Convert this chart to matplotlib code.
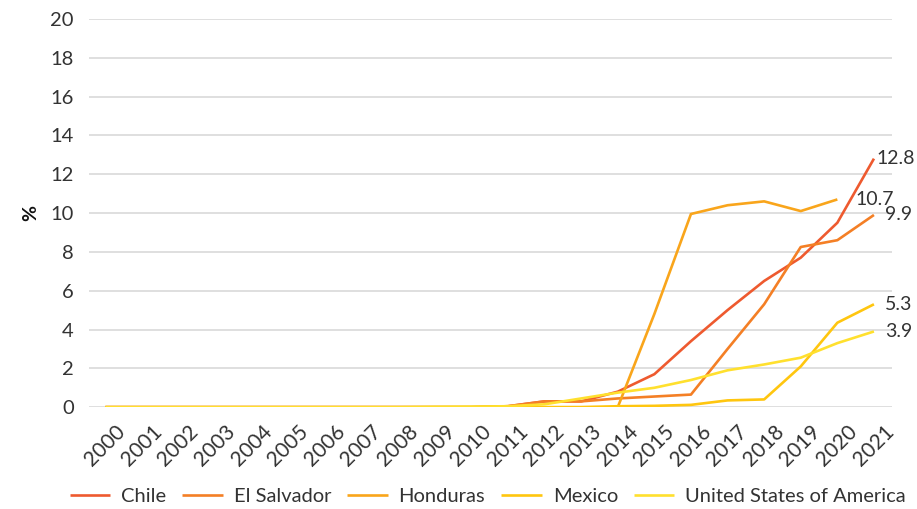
import numpy as np
import matplotlib
matplotlib.use("Agg")
import matplotlib.pyplot as plt
import matplotlib.transforms as mtransforms

years = list(range(2000, 2022))

chile = [0, 0, 0, 0, 0, 0, 0, 0, 0, 0, 0, 0.05, 0.3, 0.3, 0.8, 1.7, 3.4, 5.0, 6.5, 7.7, 9.5, 12.8]
el_salvador = [0, 0, 0, 0, 0, 0, 0, 0, 0, 0, 0, 0.05, 0.3, 0.3, 0.45, 0.55, 0.65, 3.0, 5.3, 8.25, 8.6, 9.9]
honduras = [0, 0, 0, 0, 0, 0, 0, 0, 0, 0, 0, 0, 0, 0, 0, 4.8, 9.95, 10.4, 10.6, 10.1, 10.7, None]
mexico = [0, 0, 0, 0, 0, 0, 0, 0, 0, 0, 0, 0, 0, 0, 0.05, 0.07, 0.12, 0.35, 0.4, 2.1, 4.35, 5.3]
usa = [0, 0, 0, 0, 0, 0, 0, 0, 0, 0.02, 0.03, 0.05, 0.15, 0.45, 0.75, 1.0, 1.4, 1.9, 2.2, 2.55, 3.3, 3.9]

series = ["Chile", "El Salvador", "Honduras", "Mexico", "United States of America"]
values = [chile, el_salvador, honduras, mexico, usa]
colors = ["#EE5A2F", "#F47F25", "#F9A51B", "#FFC60F", "#FFE02E"]
end_labels = ["12.8", "9.9", "10.7", "5.3", "3.9"]

plt.rcParams["font.family"] = ["Lato", "DejaVu Sans"]

fig = plt.figure(figsize=(9.17, 5.09), dpi=100)
ax = fig.add_axes([0.097, 0.200, 0.876, 0.763])

xs = np.arange(len(years))
for name, vals, col in zip(series, values, colors):
    y = np.array([np.nan if v is None else v for v in vals], dtype=float)
    ax.plot(xs, y, color=col, linewidth=1.9, label=name, solid_capstyle="butt")

# end value labels
offsets = {"12.8": (2, 0), "9.9": (8, 0), "10.7": (13, 0), "5.3": (8, 0), "3.9": (8, 0)}
for name, vals, lab in zip(series, values, end_labels):
    idx = max(i for i, v in enumerate(vals) if v is not None)
    ax.annotate(lab, (xs[idx], vals[idx]), xytext=offsets[lab], textcoords="offset points",
                ha="left", va="center", fontsize=14, color="#333333")

ax.set_ylim(0, 20)
ax.set_xlim(-0.45, 21.5)
ax.set_yticks(np.arange(0, 21, 2))
ax.set_xticks(xs)
ax.set_xticklabels([])
# rotated year labels, shifted right of the tick like the original
shift = mtransforms.ScaledTranslation(7 / 72, -10 / 72, fig.dpi_scale_trans)
for x, yr in zip(xs, years):
    ax.text(x, 0, str(yr), transform=ax.get_xaxis_transform() + shift,
            rotation=45, rotation_mode="anchor", ha="right", va="top",
            fontsize=15, color="#333333")
ax.tick_params(axis="y", labelsize=14.5, labelcolor="#333333", length=0, pad=11)
ax.tick_params(axis="x", length=0)
ax.grid(axis="y", color="#D9D9D9", linewidth=1.2)
ax.set_axisbelow(True)
for s in ax.spines.values():
    s.set_visible(False)
ax.set_ylabel("%", fontsize=14, fontweight="bold", color="#111111", labelpad=8)

fig.legend(loc="center", bbox_to_anchor=(0.532, 0.024), ncol=5, frameon=False,
           fontsize=14.5, handlelength=2.0, columnspacing=0.8, handletextpad=0.55,
           labelcolor="#333333")

fig.savefig("out.png", dpi=100)
